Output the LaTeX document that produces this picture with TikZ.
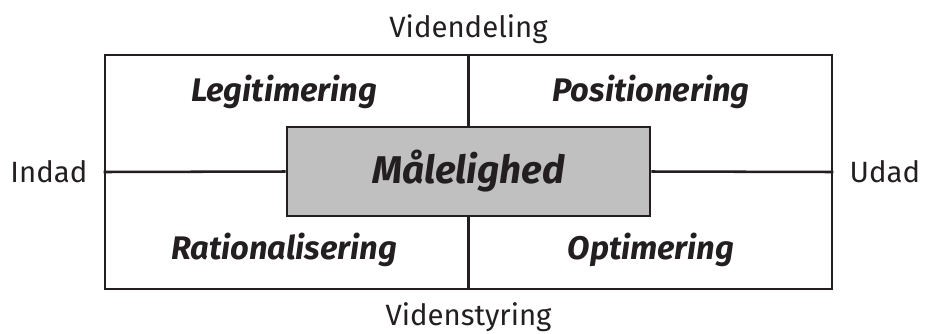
\documentclass[tikz,border=0pt]{standalone}
\usepackage{fontspec}
\setmainfont{Fira Sans}
\usetikzlibrary{positioning}
\definecolor{boxgray}{HTML}{C0C0C0}
\definecolor{ink}{HTML}{231F20}

\begin{document}
\begin{tikzpicture}[x=0.75pt, y=-0.75pt, line width=1.9pt, draw=ink, text=ink,
    axis/.style={font=\fontsize{22}{26}\selectfont},
    quad/.style={font=\fontsize{24.5}{28}\selectfont\bfseries\itshape}]
    \useasboundingbox (0,0) rectangle (925,333);

    \node[draw, minimum width=727*0.75pt, minimum height=234*0.75pt, inner sep=0pt] (frame) at (468.5,172) {};
    \node[draw, fill=boxgray, minimum width=363*0.75pt, minimum height=89*0.75pt, inner sep=0pt,
          font=\fontsize{29}{33}\selectfont\bfseries\itshape] (maal) at (468.5,171.5) {Målelighed};

    \draw (frame.north) -- (maal.north);
    \draw (maal.south) -- (frame.south);
    \draw (frame.west) -- (maal.west);
    \draw (maal.east) -- (frame.east);

    \node[quad] (legit) at (284,92) {Legitimering};
    \node[quad] (posit) at (651,92) {Positionering};
    \node[quad] (ratio) at (284,250) {Rationalisering};
    \node[quad] (optim) at (651,250) {Optimering};

    \node[axis, above=3pt of frame] (deling) {Videndeling};
    \node[axis, below=5pt of frame] (styring) {Videnstyring};
    \node[axis, left=8pt of frame] (indad) {Indad};
    \node[axis, right=8pt of frame] (udad) {Udad};
\end{tikzpicture}
\end{document}
